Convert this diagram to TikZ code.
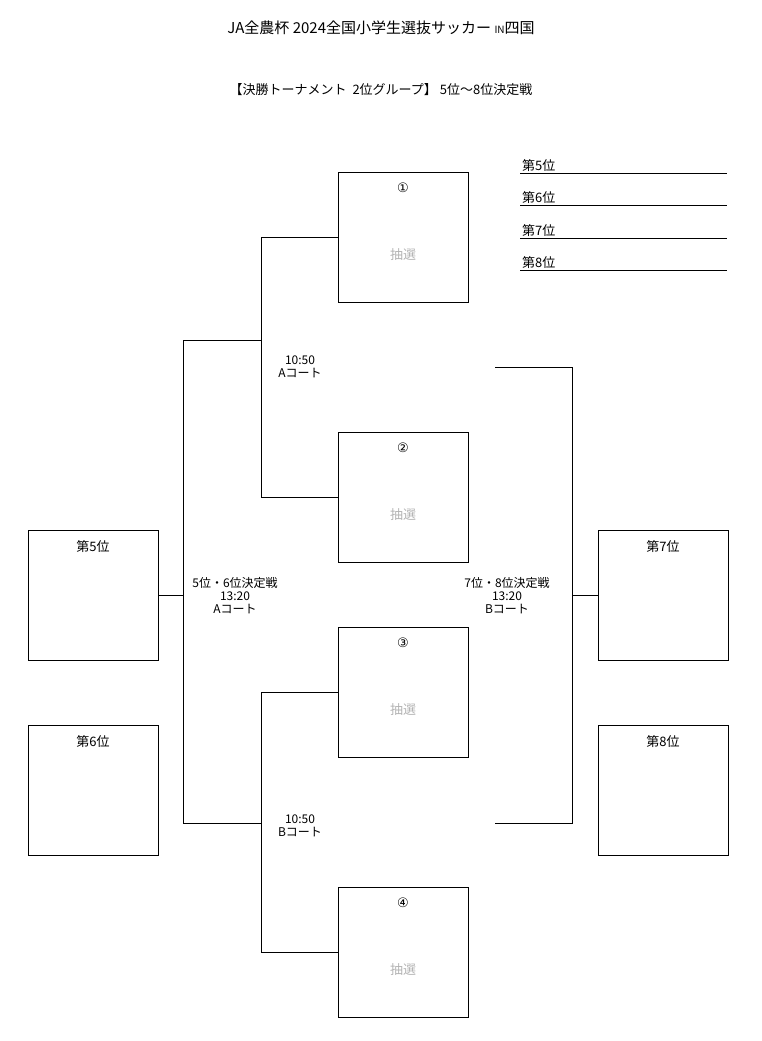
\documentclass[tikz,border=0pt]{standalone}
\usepackage{fontspec}
\setmainfont{Noto Sans CJK JP}
\newfontfamily\symfont{DejaVu Sans}
\begin{document}
\begin{tikzpicture}[x=1pt,y=-1pt,
	teambox/.style={draw, minimum size=130pt, inner sep=0pt},
	rankbox/.style={draw, minimum size=130pt, inner sep=0pt},
	toptext/.style={font=\fontsize{13}{14}\selectfont},
	drawtext/.style={font=\fontsize{13}{14}\selectfont, text=gray!60},
	infotext/.style={font=\fontsize{12}{13}\selectfont, align=center}]
\useasboundingbox (0,0) rectangle (762,1041);
% Titel
\node (title) at (381,28) {\fontsize{15}{16}\selectfont JA全農杯 2024全国小学生選抜サッカー {\fontsize{10}{10}\selectfont IN}四国};
\node (sub) at (381,90) {\fontsize{13}{14}\selectfont 【決勝トーナメント\ \ 2位グループ】 5位～8位決定戦};
% Mannschaften
\foreach \n/\y/\s in {t1/237/①,t2/497/②,t3/692/③,t4/952/④}{
  \node[teambox] (\n) at (403,\y) {};
  \node[toptext] at ([yshift=-16pt]\n.north) {\symfont\s};
  \node[drawtext] at ([yshift=-18pt]\n.center) {抽選};
}
% Platzierungen
\foreach \n/\x/\y/\s in {r5/93/595/第5位,r6/93/790/第6位,r7/663/595/第7位,r8/663/790/第8位}{
  \node[rankbox] (\n) at (\x,\y) {};
  \node[toptext] at ([yshift=-17pt]\n.north) {\s};
}
% Linien links
\coordinate (a1) at (261,237);
\coordinate (a2) at (261,497);
\coordinate (b1) at (261,692);
\coordinate (b2) at (261,952);
\draw (t1.west) -- (a1) -- (a2) -- (t2.west);
\draw (t3.west) -- (b1) -- (b2) -- (t4.west);
\coordinate (l1) at (183,340);
\coordinate (l2) at (183,823);
\draw (261,340) -- (l1) -- (l2) -- (261,823);
\draw (r5.east) -- (183,595);
% Linien rechts
\coordinate (q1) at (572,367);
\coordinate (q2) at (572,823);
\draw (495,367) -- (q1) -- (q2) -- (495,823);
\draw (r7.west) -- (572,595);
% Spielinfo
\node[infotext] (m1) at (300,367) {10:50\\Aコート};
\node[infotext] (m2) at (300,826) {10:50\\Bコート};
\node[infotext] (m3) at (235,596) {5位・6位決定戦\\13:20\\Aコート};
\node[infotext] (m4) at (507,596) {7位・8位決定戦\\13:20\\Bコート};
% Rangliste
\foreach \s/\y in {第5位/173,第6位/205,第7位/238,第8位/270}{
  \node[toptext, anchor=south west, inner sep=1pt] at (521,\y) {\s};
  \draw (520,\y) -- (727,\y);
}
\end{tikzpicture}
\end{document}
